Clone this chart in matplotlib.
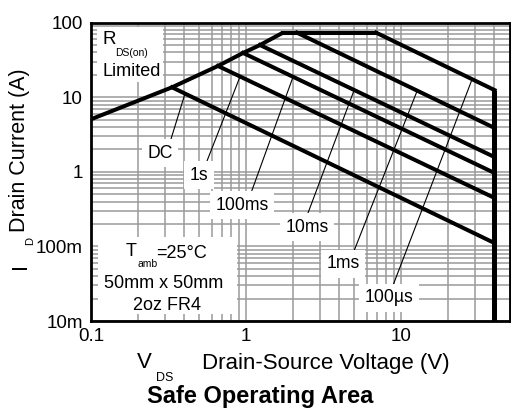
import numpy as np
import matplotlib
matplotlib.use("Agg")
import matplotlib.pyplot as plt
from matplotlib.patches import Rectangle
from matplotlib.ticker import FixedLocator, LogLocator, NullFormatter

plt.rcParams['font.family'] = ['Liberation Sans', 'DejaVu Sans']

# ---------------- data ----------------
# R_DS(on) limited boundary (V, A)
rds_v = [0.1, 0.333, 0.659, 0.957, 1.23, 1.73]
rds_i = [5.07, 13.6, 26.3, 39.3, 50.2, 73.5]
# package current limit (flat part)
id_max = 73.5
flat_v = [1.73, 6.9]
# maximum drain-source voltage
vds_max = 40.0
# pulse-width limited lines (start on boundary -> end at vds_max)
pulse_labels = ['DC', '1s', '100ms', '10ms', '1ms', '100µs']
dc_v = [0.333, 40.0];   dc_i = [13.6, 0.111]
s1_v = [0.659, 40.0];   s1_i = [26.3, 0.447]
ms100_v = [0.957, 40.0]; ms100_i = [39.3, 0.966]
ms10_v = [1.23, 40.0];  ms10_i = [50.2, 1.58]
ms1_v = [2.13, 40.0];   ms1_i = [73.5, 3.88]
us100_v = [6.9, 40.0];  us100_i = [73.5, 12.5]
pulse_v = [dc_v, s1_v, ms100_v, ms10_v, ms1_v, us100_v]
pulse_i = [dc_i, s1_i, ms100_i, ms10_i, ms1_i, us100_i]
# voltage where each label's leader line meets its curve
leader_v = [0.404, 0.915, 2.01, 4.98, 12.7, 28.7]

x_ticks = [0.1, 1, 10]
x_ticklabels = ['0.1', '1', '10']
y_ticks = [0.01, 0.1, 1, 10, 100]
y_ticklabels = ['10m', '100m', '1', '10', '100']

# ---------------- figure ----------------
W, H = 511, 409
fig = plt.figure(figsize=(W / 100, H / 100), dpi=100)
AX_L, AX_R, AX_T, AX_B = 91, 509.5, 22.7, 321
ax = fig.add_axes([AX_L / W, 1 - AX_B / H, (AX_R - AX_L) / W, (AX_B - AX_T) / H])


def P(px, py):
    """pixel position in the image -> axes fraction"""
    return ((px - AX_L) / (AX_R - AX_L), (AX_B - py) / (AX_B - AX_T))


def F(px, py):
    """pixel position in the image -> figure fraction"""
    return (px / W, 1 - py / H)


ax.set_xscale('log')
ax.set_yscale('log')
ax.set_xlim(0.1, 50)
ax.set_ylim(0.01, 100)
ax.xaxis.set_major_locator(FixedLocator(x_ticks))
ax.set_xticklabels(x_ticklabels)
ax.yaxis.set_major_locator(FixedLocator(y_ticks))
ax.set_yticklabels(y_ticklabels)
ax.xaxis.set_minor_locator(LogLocator(base=10, subs=np.arange(2, 10)))
ax.yaxis.set_minor_locator(LogLocator(base=10, subs=np.arange(2, 10)))
ax.xaxis.set_minor_formatter(NullFormatter())
ax.yaxis.set_minor_formatter(NullFormatter())
ax.tick_params(which='both', length=0)
ax.tick_params(axis='x', labelsize=13.5, pad=5)
ax.tick_params(axis='y', labelsize=13.5, pad=6)
ax.set_axisbelow(True)
ax.grid(which='both', color='#9a9a9a', linewidth=1.1)
for s in ax.spines.values():
    s.set_linewidth(2.0)
    s.set_color('black')

# white boxes behind the notes
for (x0, y0, x1, y1) in [(97, 27, 163, 82), (98, 237, 237, 314)]:
    a0 = P(x0, y1)
    a1 = P(x1, y0)
    ax.add_patch(Rectangle(a0, a1[0] - a0[0], a1[1] - a0[1], transform=ax.transAxes,
                           facecolor='white', edgecolor='none', zorder=1))

LW = 2.9
# boundary: Rds(on) line, flat current limit
ax.plot(rds_v, rds_i, color='black', lw=LW, zorder=3, solid_capstyle='butt')
ax.plot(flat_v, [id_max, id_max], color='black', lw=LW, zorder=3)
# pulse lines
for v, i in zip(pulse_v, pulse_i):
    ax.plot(v, i, color='black', lw=LW, zorder=3, solid_joinstyle='miter')
# vertical V_DS max line
ax.plot([vds_max, vds_max], [us100_i[-1], 0.01], color='black', lw=3.6, zorder=3,
        clip_on=False, solid_capstyle='butt')

# labels with leader lines
text_px = [(160, 153), (199, 175), (242, 205), (307, 227), (343, 264), (389, 298)]
lead_px = [(171, 139), (207, 161), (251, 193), (308, 213), (354, 251), (392, 288)]
for lab, v, i, lv, tp, lp in zip(pulse_labels, pulse_v, pulse_i, leader_v, text_px, lead_px):
    li = 10 ** np.interp(np.log10(lv), np.log10(v), np.log10(i))
    ax.annotate('', xy=(lv, li), xycoords='data', xytext=P(*lp), textcoords='axes fraction',
                arrowprops=dict(arrowstyle='-', lw=0.8, color='black', shrinkA=0, shrinkB=0),
                zorder=4)
    ax.text(*P(*tp), lab, transform=ax.transAxes, ha='center', va='center', fontsize=12.7,
            zorder=5, bbox=dict(boxstyle='square,pad=0.3', fc='white', ec='none'))

# notes inside the plot
ax.text(*P(102, 40), 'R', transform=ax.transAxes, ha='left', va='center', fontsize=13.5, zorder=5)
ax.text(*P(115, 53), 'DS(on)', transform=ax.transAxes, ha='left', va='center', fontsize=7.5, zorder=5)
ax.text(*P(132, 71), 'Limited', transform=ax.transAxes, ha='center', va='center', fontsize=13, zorder=5)

ax.text(*P(126, 252), 'T', transform=ax.transAxes, ha='left', va='center', fontsize=13, zorder=5)
ax.text(*P(137, 264), 'amb', transform=ax.transAxes, ha='left', va='center', fontsize=7.5, zorder=5)
ax.text(*P(156, 253), '=25°C', transform=ax.transAxes, ha='left', va='center', fontsize=13, zorder=5)
ax.text(*P(164, 283), '50mm x 50mm', transform=ax.transAxes, ha='center', va='center', fontsize=13, zorder=5)
ax.text(*P(167, 305), '2oz FR4', transform=ax.transAxes, ha='center', va='center', fontsize=13, zorder=5)

# axis labels and title
fig.text(*F(20, 266), 'I', rotation=90, ha='center', va='center', fontsize=15.5)
fig.text(*F(30, 241), 'D', rotation=90, ha='center', va='center', fontsize=8)
fig.text(*F(20, 150), 'Drain Current (A)', rotation=90, ha='center', va='center', fontsize=15.5)
fig.text(*F(144, 363), 'V', ha='center', va='center', fontsize=16)
fig.text(*F(165, 378), 'DS', ha='center', va='center', fontsize=9)
fig.text(*F(326, 363), 'Drain-Source Voltage (V)', ha='center', va='center', fontsize=16)
fig.text(*F(260, 397), 'Safe Operating Area', ha='center', va='center', fontsize=17, fontweight='bold')

fig.savefig('out.png', dpi=100)
